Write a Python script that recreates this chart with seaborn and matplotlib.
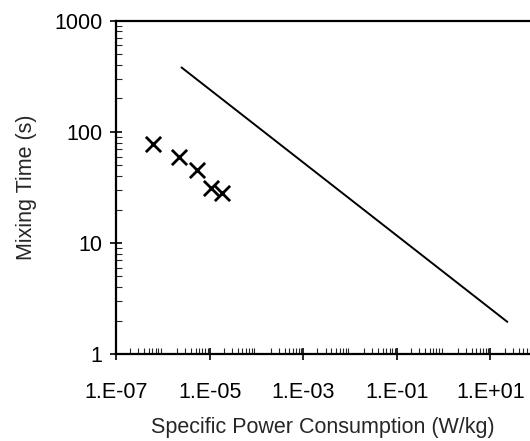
import numpy as np
import pandas as pd
import matplotlib
matplotlib.use("Agg")
import matplotlib.pyplot as plt
import seaborn as sns
from matplotlib.ticker import LogLocator, FixedLocator

# measured points (crosses)
power_x = [6.2e-7, 2.2e-6, 5.4e-6, 1.07e-5, 1.84e-5]
mix_time = [78, 59, 45, 31, 28]

# correlation line endpoints
line_x = [2.5e-6, 23]
line_y = [380, 1.95]

x_ticks = [1e-7, 1e-5, 1e-3, 1e-1, 1e1]
x_labels = ["1.E-07", "1.E-05", "1.E-03", "1.E-01", "1.E+01"]
y_ticks = [1, 10, 100, 1000]
y_labels = ["1", "10", "100", "1000"]

pts = pd.DataFrame({"x": power_x, "y": mix_time})
ln = pd.DataFrame({"x": line_x, "y": line_y})

sns.set_style("white")
plt.rcParams["font.family"] = ["Liberation Sans", "DejaVu Sans"]

fig = plt.figure(figsize=(5.3, 4.41), dpi=100)
ax = fig.add_axes([0.219, 0.197, 0.781, 0.756])

sns.scatterplot(data=pts, x="x", y="y", marker="x", s=120, color="black",
                linewidth=2.0, ax=ax, zorder=3)
sns.lineplot(data=ln, x="x", y="y", color="black", linewidth=1.4, ax=ax)

ax.set_xscale("log")
ax.set_yscale("log")
ax.set_xlim(1e-7, 70)
ax.set_ylim(1, 1000)

ax.xaxis.set_major_locator(FixedLocator(x_ticks))
ax.set_xticklabels(x_labels)
ax.yaxis.set_major_locator(FixedLocator(y_ticks))
ax.set_yticklabels(y_labels)
ax.xaxis.set_minor_locator(LogLocator(base=10, subs=np.arange(2, 10), numticks=30))
ax.yaxis.set_minor_locator(LogLocator(base=10, subs=np.arange(2, 10), numticks=30))
ax.xaxis.set_minor_formatter(plt.NullFormatter())
ax.yaxis.set_minor_formatter(plt.NullFormatter())

ax.tick_params(which="major", direction="inout", length=8, width=1.2,
               labelsize=15.5, colors="black")
ax.tick_params(axis="x", which="major", pad=16)
ax.tick_params(axis="y", which="major", pad=6)
ax.tick_params(which="minor", direction="in", length=4, width=0.8)
ax.tick_params(axis="x", which="both", bottom=True, top=False)
ax.tick_params(axis="y", which="both", left=True, right=False)

for side in ["left", "bottom", "top"]:
    ax.spines[side].set_color("black")
    ax.spines[side].set_linewidth(1.6)
ax.spines["right"].set_visible(False)

ax.set_xlabel("Specific Power Consumption (W/kg)", fontsize=15.5, labelpad=10)
ax.set_ylabel("Mixing Time (s)", fontsize=15.5, labelpad=12)
ax.grid(False)

fig.savefig("out.png", dpi=100)
